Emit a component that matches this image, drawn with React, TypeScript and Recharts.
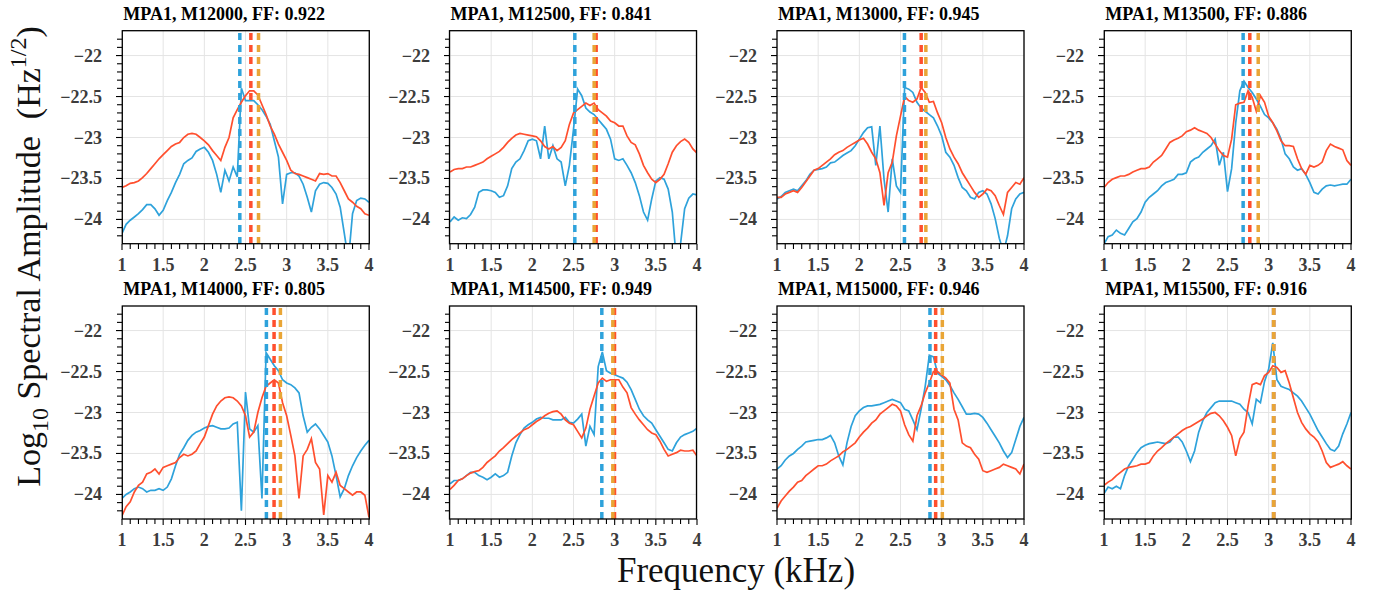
import { LineChart, Line, XAxis, YAxis, CartesianGrid, ReferenceLine } from 'recharts';

const FREQ = [
  1, 1.05, 1.1, 1.15, 1.2, 1.25, 1.3, 1.35, 1.4, 1.45,
  1.5, 1.55, 1.6, 1.65, 1.7, 1.75, 1.8, 1.85, 1.9, 1.95,
  2, 2.05, 2.1, 2.15, 2.2, 2.25, 2.3, 2.35, 2.4, 2.45,
  2.5, 2.55, 2.6, 2.65, 2.7, 2.75, 2.8, 2.85, 2.9, 2.95,
  3, 3.05, 3.1, 3.15, 3.2, 3.25, 3.3, 3.35, 3.4, 3.45,
  3.5, 3.55, 3.6, 3.65, 3.7, 3.75, 3.8, 3.85, 3.9, 3.95, 4,
];

const TITLES = [
  'MPA1, M12000, FF: 0.922', 'MPA1, M12500, FF: 0.841', 'MPA1, M13000, FF: 0.945', 'MPA1, M13500, FF: 0.886',
  'MPA1, M14000, FF: 0.805', 'MPA1, M14500, FF: 0.949', 'MPA1, M15000, FF: 0.946', 'MPA1, M15500, FF: 0.916',
];

// dashed markers (kHz)
const BLUE_MARK = [2.431, 2.516, 2.548, 2.69, 2.754, 2.844, 2.858, 3.06];
const RED_MARK = [2.565, 2.775, 2.751, 2.771, 2.847, 2.998, 2.927, 3.06];
const ORANGE_MARK = [2.658, 2.751, 2.808, 2.873, 2.924, 2.978, 3.008, 3.061];

const p1Blue = [
  -24.17, -24.06, -24.01, -23.97, -23.93, -23.88, -23.82, -23.82, -23.87, -23.95,
  -23.89, -23.77, -23.67, -23.55, -23.45, -23.32, -23.28, -23.25, -23.17, -23.14,
  -23.12, -23.18, -23.28, -23.45, -23.67, -23.4, -23.53, -23.36, -23.48, -22.4,
  -22.55, -22.55, -22.55, -22.6, -22.66, -22.74, -22.84, -23.04, -23.24, -23.81,
  -23.45, -23.43, -23.43, -23.47, -23.57, -23.73, -23.91, -23.65, -23.57, -23.55,
  -23.56, -23.61, -23.69, -23.85, -24.17, -24.5, -23.93, -23.77, -23.74, -23.75, -23.79,
];
const p1Red = [
  -23.61, -23.59, -23.56, -23.55, -23.53, -23.49, -23.44, -23.38, -23.32, -23.26,
  -23.21, -23.16, -23.11, -23.08, -23.06, -23.0, -22.96, -22.95, -22.96, -23.0,
  -23.04, -23.09, -23.16, -23.22, -23.28, -23.12, -23.0, -22.76, -22.66, -22.57,
  -22.49, -22.43, -22.43, -22.48, -22.6, -22.72, -22.86, -22.96, -23.08, -23.18,
  -23.28, -23.4, -23.44, -23.45, -23.47, -23.49, -23.51, -23.53, -23.44, -23.45,
  -23.44, -23.47, -23.47, -23.55, -23.65, -23.75, -23.79, -23.84, -23.87, -23.93, -23.95,
];
const p2Blue = [
  -24.03, -23.97, -24.01, -23.98, -23.99, -23.94, -23.85, -23.67, -23.64, -23.64,
  -23.65, -23.67, -23.73, -23.71, -23.59, -23.38, -23.3, -23.26, -23.16, -23.04,
  -23.02, -23.04, -23.26, -22.86, -23.26, -23.1, -23.26, -23.3, -23.59, -23.34,
  -22.9, -22.41, -22.49, -22.64, -22.69, -22.72, -22.78, -22.84, -22.9, -23.02,
  -23.26, -23.28, -23.26, -23.34, -23.43, -23.55, -23.71, -23.91, -24.01, -23.75,
  -23.53, -23.49, -23.51, -23.63, -23.91, -24.5, -24.3, -23.87, -23.74, -23.69, -23.7,
];
const p2Red = [
  -23.42, -23.39, -23.38, -23.38, -23.36, -23.36, -23.34, -23.32, -23.3, -23.26,
  -23.23, -23.2, -23.17, -23.12, -23.06, -23.01, -22.97, -22.95, -22.96, -22.97,
  -22.98, -22.99, -23.04, -23.11, -23.14, -23.11, -23.16, -23.12, -23.04, -22.84,
  -22.7, -22.66, -22.62, -22.58, -22.61, -22.58, -22.66, -22.7, -22.74, -22.8,
  -22.82, -22.86, -22.86, -22.98, -23.06, -23.09, -23.2, -23.34, -23.43, -23.51,
  -23.55, -23.51, -23.45, -23.32, -23.18, -23.1, -23.05, -23.02, -23.06, -23.14, -23.19,
];
const p3Blue = [
  -23.75, -23.72, -23.67, -23.65, -23.63, -23.65, -23.59, -23.53, -23.45, -23.4,
  -23.39, -23.38, -23.36, -23.31, -23.3, -23.26, -23.22, -23.19, -23.16, -23.1,
  -23.02, -22.94, -22.88, -22.87, -23.34, -22.86, -23.51, -23.91, -23.26, -23.59,
  -23.67, -22.39, -22.41, -22.45, -22.57, -22.64, -22.68, -22.72, -22.76, -22.86,
  -22.98, -23.18, -23.24, -23.34, -23.49, -23.61, -23.65, -23.73, -23.75, -23.67,
  -23.65, -23.69, -23.81, -23.99, -24.23, -24.4, -24.2, -23.87, -23.75, -23.69, -23.67,
];
const p3Red = [
  -23.73, -23.73, -23.69, -23.67, -23.65, -23.67, -23.61, -23.54, -23.47, -23.4,
  -23.38, -23.34, -23.3, -23.26, -23.21, -23.18, -23.16, -23.12, -23.09, -23.06,
  -23.03, -23.01, -23.08, -23.18, -23.26, -23.43, -23.83, -23.43, -23.3, -22.98,
  -22.74, -22.5, -22.55, -22.57, -22.53, -22.39, -22.45, -22.57, -22.56, -22.7,
  -22.82, -23.0, -23.14, -23.24, -23.32, -23.43, -23.51, -23.59, -23.67, -23.73,
  -23.69, -23.63, -23.65, -23.71, -23.83, -23.94, -23.67, -23.61, -23.55, -23.57, -23.49,
];
const p4Blue = [
  -24.3, -24.21, -24.19, -24.13, -24.17, -24.19, -24.11, -24.03, -23.99, -23.91,
  -23.79, -23.73, -23.69, -23.65, -23.59, -23.55, -23.53, -23.51, -23.45, -23.45,
  -23.43, -23.3, -23.26, -23.24, -23.18, -23.14, -23.1, -23.02, -23.34, -23.18,
  -23.66, -23.38, -22.82, -22.43, -22.31, -22.39, -22.45, -22.53, -22.62, -22.72,
  -22.76, -22.82, -22.9, -23.02, -23.2, -23.26, -23.36, -23.4, -23.38, -23.45,
  -23.55, -23.67, -23.69, -23.63, -23.59, -23.58, -23.59, -23.58, -23.57, -23.57, -23.51,
];
const p4Red = [
  -23.61, -23.55, -23.51, -23.49, -23.47, -23.47, -23.45, -23.42, -23.4, -23.38,
  -23.38, -23.36, -23.3, -23.26, -23.22, -23.14, -23.06, -23.03, -23.01, -22.98,
  -22.93, -22.91, -22.88, -22.91, -22.93, -22.95, -23.0, -23.08, -23.16, -23.22,
  -23.24, -23.02, -22.6, -22.58, -22.57, -22.43, -22.51, -22.68, -22.49, -22.57,
  -22.74, -22.82, -22.92, -23.04, -23.1, -23.1, -23.11, -23.26, -23.38, -23.45,
  -23.34, -23.36, -23.34, -23.3, -23.16, -23.08, -23.11, -23.13, -23.15, -23.28, -23.34,
];
const p5Blue = [
  -24.05, -24.0, -23.97, -23.93, -23.91, -23.93, -23.97, -23.95, -23.95, -23.93,
  -23.95, -23.91, -23.81, -23.65, -23.51, -23.43, -23.34, -23.28, -23.24, -23.22,
  -23.19, -23.17, -23.16, -23.18, -23.2, -23.2, -23.19, -23.14, -23.12, -24.2,
  -22.75, -23.2, -23.24, -23.16, -24.05, -22.27, -22.35, -22.43, -22.49, -22.6,
  -22.64, -22.66, -22.7, -22.76, -23.04, -23.24, -23.18, -23.14, -23.2, -23.28,
  -23.36, -23.53, -23.77, -24.03, -23.93, -23.77, -23.65, -23.55, -23.47, -23.4, -23.34,
];
const p5Red = [
  -24.26, -24.15, -24.09, -23.97, -23.89, -23.85, -23.75, -23.73, -23.69, -23.75,
  -23.67, -23.65, -23.63, -23.61, -23.55, -23.51, -23.53, -23.51, -23.47, -23.38,
  -23.3, -23.16, -23.02, -22.92, -22.86, -22.82, -22.81, -22.82, -22.86, -22.92,
  -23.04, -23.3, -23.24, -23.0, -22.82, -22.68, -22.64, -22.6, -22.64, -22.88,
  -23.04, -23.28, -23.53, -24.05, -23.53, -23.45, -23.32, -23.61, -23.69, -24.25,
  -23.77, -23.85, -23.73, -23.89, -23.93, -23.97, -24.01, -23.97, -23.97, -24.01, -24.28,
];
const p6Blue = [
  -23.87, -23.83, -23.83, -23.81, -23.77, -23.73, -23.73, -23.77, -23.79, -23.82,
  -23.79, -23.75, -23.79, -23.77, -23.73, -23.53, -23.37, -23.27, -23.19, -23.15,
  -23.12, -23.08, -23.06, -23.07, -23.07, -23.09, -23.09, -23.09, -23.06, -23.12,
  -23.13, -23.08, -23.02, -23.41, -23.17, -23.27, -22.44, -22.26, -22.49, -22.52,
  -22.54, -22.56, -22.58, -22.63, -22.72, -22.84, -22.96, -23.04, -23.09, -23.13,
  -23.21, -23.29, -23.37, -23.45, -23.47, -23.37, -23.3, -23.27, -23.25, -23.23, -23.19,
];
const p6Red = [
  -23.94, -23.89, -23.83, -23.81, -23.77, -23.74, -23.72, -23.71, -23.67, -23.61,
  -23.57, -23.53, -23.47, -23.43, -23.38, -23.33, -23.29, -23.25, -23.21, -23.19,
  -23.15, -23.11, -23.08, -23.04, -23.01, -22.99, -22.98, -23.02, -23.09, -23.13,
  -23.15, -23.23, -23.31, -23.19, -22.96, -22.8, -22.64, -22.58, -22.62, -22.6,
  -22.6, -22.6, -22.69, -22.76, -22.94, -23.02, -23.09, -23.15, -23.21, -23.25,
  -23.27, -23.35, -23.45, -23.53, -23.51, -23.49, -23.46, -23.47, -23.47, -23.46, -23.53,
];
const p7Blue = [
  -23.69, -23.65, -23.58, -23.53, -23.5, -23.45, -23.41, -23.36, -23.35, -23.34,
  -23.33, -23.33, -23.31, -23.28, -23.37, -23.53, -23.64, -23.37, -23.17, -23.04,
  -22.98, -22.94, -22.92, -22.92, -22.91, -22.9, -22.88, -22.86, -22.84, -22.86,
  -22.88, -22.96, -22.98, -23.09, -23.21, -22.96, -22.68, -22.3, -22.32, -22.52,
  -22.56, -22.6, -22.67, -22.76, -22.84, -22.93, -23.02, -23.02, -23.01, -23.02,
  -23.06, -23.13, -23.21, -23.29, -23.37, -23.47, -23.55, -23.49, -23.33, -23.17, -23.06,
];
const p7Red = [
  -24.17, -24.08, -24.02, -23.96, -23.91, -23.85, -23.83, -23.77, -23.73, -23.69,
  -23.65, -23.65, -23.63, -23.59, -23.56, -23.53, -23.48, -23.45, -23.41, -23.37,
  -23.3, -23.24, -23.19, -23.13, -23.09, -23.02, -22.98, -22.94, -22.9, -22.92,
  -22.98, -23.15, -23.27, -23.35, -23.04, -22.92, -22.76, -22.64, -22.5, -22.5,
  -22.54, -22.58, -22.64, -22.96, -23.09, -23.37, -23.41, -23.43, -23.51, -23.57,
  -23.71, -23.73, -23.71, -23.69, -23.67, -23.63, -23.65, -23.67, -23.69, -23.75, -23.63,
];
const p8Blue = [
  -23.99, -23.91, -23.93, -23.9, -23.93, -23.77, -23.65, -23.57, -23.49, -23.43,
  -23.4, -23.38, -23.37, -23.36, -23.37, -23.38, -23.36, -23.3, -23.3, -23.36,
  -23.47, -23.6, -23.47, -23.24, -23.1, -23.0, -22.94, -22.88, -22.86, -22.86,
  -22.86, -22.86, -22.88, -22.9, -22.96, -23.0, -23.14, -22.84, -22.88, -22.62,
  -22.47, -22.15, -22.6, -22.68, -22.7, -22.72, -22.76, -22.8, -22.86, -22.94,
  -23.02, -23.12, -23.22, -23.3, -23.38, -23.45, -23.47, -23.41, -23.26, -23.14, -23.0,
];
const p8Red = [
  -23.89, -23.85, -23.82, -23.77, -23.73, -23.69, -23.67, -23.66, -23.65, -23.63,
  -23.63, -23.61, -23.53, -23.47, -23.43, -23.38, -23.34, -23.3, -23.26, -23.22,
  -23.19, -23.17, -23.14, -23.11, -23.08, -23.04, -23.01, -23.0, -23.04, -23.1,
  -23.18, -23.28, -23.53, -23.32, -23.24, -22.92, -22.66, -22.64, -22.66, -22.55,
  -22.51, -22.43, -22.45, -22.51, -22.49, -22.64, -22.82, -23.0, -23.12, -23.2,
  -23.26, -23.3, -23.36, -23.47, -23.61, -23.67, -23.65, -23.63, -23.6, -23.65, -23.69,
];

const BLUE_SERIES = [p1Blue, p2Blue, p3Blue, p4Blue, p5Blue, p6Blue, p7Blue, p8Blue];
const RED_SERIES = [p1Red, p2Red, p3Red, p4Red, p5Red, p6Red, p7Red, p8Red];

const X_TICKS = [
  1, 1.1, 1.2, 1.3, 1.4, 1.5, 1.6, 1.7, 1.8, 1.9, 2, 2.1, 2.2, 2.3, 2.4, 2.5,
  2.6, 2.7, 2.8, 2.9, 3, 3.1, 3.2, 3.3, 3.4, 3.5, 3.6, 3.7, 3.8, 3.9, 4,
];
const Y_TICKS = [
  -24.2, -24.1, -24, -23.9, -23.8, -23.7, -23.6, -23.5, -23.4, -23.3, -23.2, -23.1,
  -23, -22.9, -22.8, -22.7, -22.6, -22.5, -22.4, -22.3, -22.2, -22.1, -22, -21.9, -21.8,
];
const X_MAJOR = [1, 1.5, 2, 2.5, 3, 3.5, 4];
const Y_MAJOR = [-24, -23.5, -23, -22.5, -22];

const BLUE = '#2ea2db';
const RED = '#ff4f2e';
const ORANGE = '#e9a536';
const SERIF = "'Liberation Serif', 'Times New Roman', serif";

const PLOT_LEFT = [122.3, 449.5, 777, 1104.3];
const PLOT_TOP = [30.7, 306];
const PW = 247;
const PH = 213;
const ML = 90;
const MT = 30;

const isMajor = (v: number) => Math.abs(v * 2 - Math.round(v * 2)) < 1e-6;
const fmt = (v: number) => String(v).replace('-', '\u2212');

const XTick = (props: any) => {
  const { x, y, payload } = props;
  const v = payload.value;
  const major = isMajor(v);
  return (
    <g>
      <line x1={x} x2={x} y1={y} y2={y + (major ? 6 : 5)} stroke="#000" strokeWidth={1.1} />
      {major && (
        <text x={x} y={y + 27} textAnchor="middle" fontFamily={SERIF} fontWeight={700} fontSize={18} fill="#3c3c3c">
          {fmt(v)}
        </text>
      )}
    </g>
  );
};

const YTick = (props: any) => {
  const { x, y, payload } = props;
  const v = payload.value;
  const major = isMajor(v);
  return (
    <g>
      <line x1={x - (major ? 6 : 5)} x2={x} y1={y} y2={y} stroke="#000" strokeWidth={1.1} />
      {major && (
        <text x={x - 20} y={y + 6} textAnchor="end" fontFamily={SERIF} fontWeight={700} fontSize={18} fill="#3c3c3c">
          {fmt(v)}
        </text>
      )}
    </g>
  );
};

function Panel({ k }: { k: number }) {
  const col = k % 4;
  const row = Math.floor(k / 4);
  const data = FREQ.map((f, i) => ({ f, blue: BLUE_SERIES[k][i], red: RED_SERIES[k][i] }));
  return (
    <div style={{ position: 'absolute', left: PLOT_LEFT[col] - ML, top: PLOT_TOP[row] - MT }}>
      <LineChart width={ML + PW + 10} height={MT + PH + 40} data={data} margin={{ top: MT, right: 10, bottom: 0, left: 0 }}>
        <CartesianGrid stroke="#e4e4e4" strokeWidth={1} verticalValues={X_MAJOR} horizontalValues={Y_MAJOR} syncWithTicks={false} />
        <XAxis
          dataKey="f"
          type="number"
          domain={[1, 4]}
          ticks={X_TICKS}
          interval={0}
          allowDataOverflow
          axisLine={false}
          tickLine={false}
          tickSize={0}
          tickMargin={0}
          height={40}
          tick={XTick}
        />
        <YAxis
          type="number"
          domain={[-24.3, -21.7]}
          ticks={Y_TICKS}
          interval={0}
          allowDataOverflow
          axisLine={false}
          tickLine={false}
          tickSize={0}
          tickMargin={0}
          width={ML}
          tick={YTick}
        />
        <Line type="linear" dataKey="blue" stroke={BLUE} strokeWidth={1.7} dot={false} isAnimationActive={false} />
        <Line type="linear" dataKey="red" stroke={RED} strokeWidth={1.7} dot={false} isAnimationActive={false} />
        <ReferenceLine x={BLUE_MARK[k]} stroke={BLUE} strokeWidth={3.5} strokeDasharray="7 5" />
        <ReferenceLine x={RED_MARK[k]} stroke={RED} strokeWidth={3.5} strokeDasharray="7 5" />
        <ReferenceLine x={ORANGE_MARK[k]} stroke={ORANGE} strokeWidth={3.5} strokeDasharray="7 5" />
      </LineChart>
    </div>
  );
}

export default function App() {
  return (
    <div style={{ position: 'absolute', left: 0, top: 0, width: 1382, height: 600, background: '#fff', overflow: 'hidden' }}>
      {TITLES.map((_, k) => (
        <Panel key={k} k={k} />
      ))}
      <svg width={1382} height={600} style={{ position: 'absolute', left: 0, top: 0, pointerEvents: 'none' }}>
        {TITLES.map((t, k) => {
          const col = k % 4;
          const row = Math.floor(k / 4);
          return (
            <g key={k}>
              <rect x={PLOT_LEFT[col]} y={PLOT_TOP[row]} width={PW} height={PH} fill="none" stroke="#000" strokeWidth={1.3} />
              <text x={PLOT_LEFT[col] + 1} y={PLOT_TOP[row] - 10.7} fontFamily={SERIF} fontWeight={700} fontSize={18} fill="#000">
                {t}
              </text>
            </g>
          );
        })}
        <text x={736} y={582} textAnchor="middle" fontFamily={SERIF} fontSize={35} fill="#111">
          Frequency (kHz)
        </text>
        <text
          x={40}
          y={256.5}
          transform="rotate(-90 40 256.5)"
          textAnchor="middle"
          fontFamily={SERIF}
          fontSize={34}
          fill="#111"
        >
          Log<tspan fontSize={24} dy={8}>10</tspan>
          <tspan dy={-8}> Spectral Amplitude{'\u2002'}(Hz</tspan>
          <tspan fontSize={24} dy={-14}>1/2</tspan>
          <tspan dy={14}>)</tspan>
        </text>
      </svg>
    </div>
  );
}
